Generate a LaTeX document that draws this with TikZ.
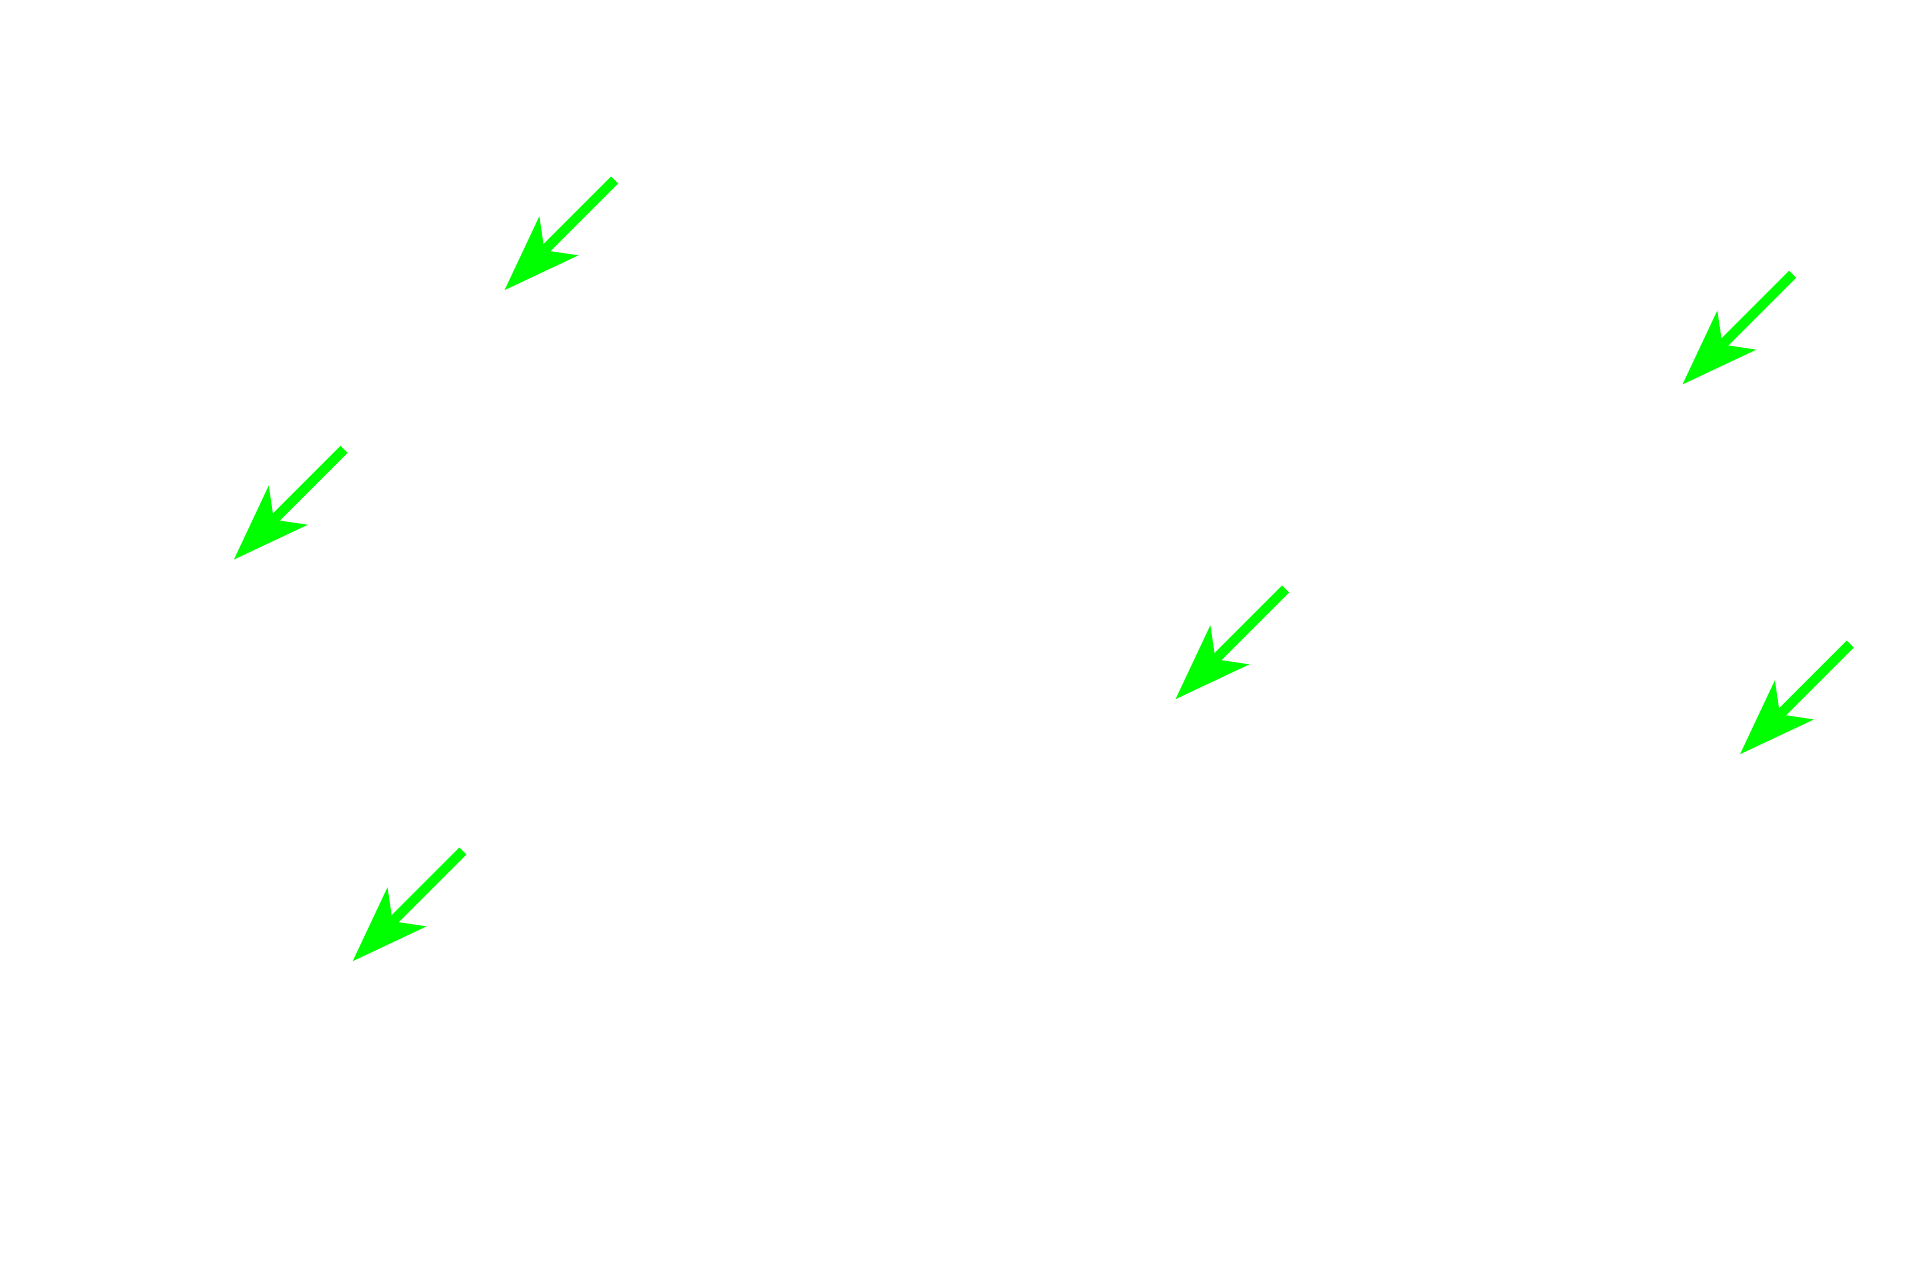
\documentclass[tikz,border=0pt]{standalone}
\usetikzlibrary{arrows.meta}
\definecolor{pointer}{HTML}{00FF00}
\tikzstyle{pointerarrow} = [line width=2.3pt, draw=pointer,
  -{Stealth[length=6.2mm, width=4.4mm, inset=1.6mm, fill=pointer]}]
\begin{document}
\begin{tikzpicture}[x=0.01cm, y=-0.01cm]
  % Canvas
  \useasboundingbox (0,0) rectangle (1568,1045);
  % Arrow ends
  \foreach \name/\x/\y in {a/502/147, b/281/367, c/378/695,
                           d/1050/481, e/1464/224, f/1511/526} {
    \coordinate (\name tail) at (\x,\y);
    \coordinate (\name tip) at (\x-90,\y+90);
  }
  % Arrows
  \foreach \name in {a,b,c,d,e,f}
    \draw [pointerarrow] (\name tail) -- (\name tip);
\end{tikzpicture}
\end{document}
